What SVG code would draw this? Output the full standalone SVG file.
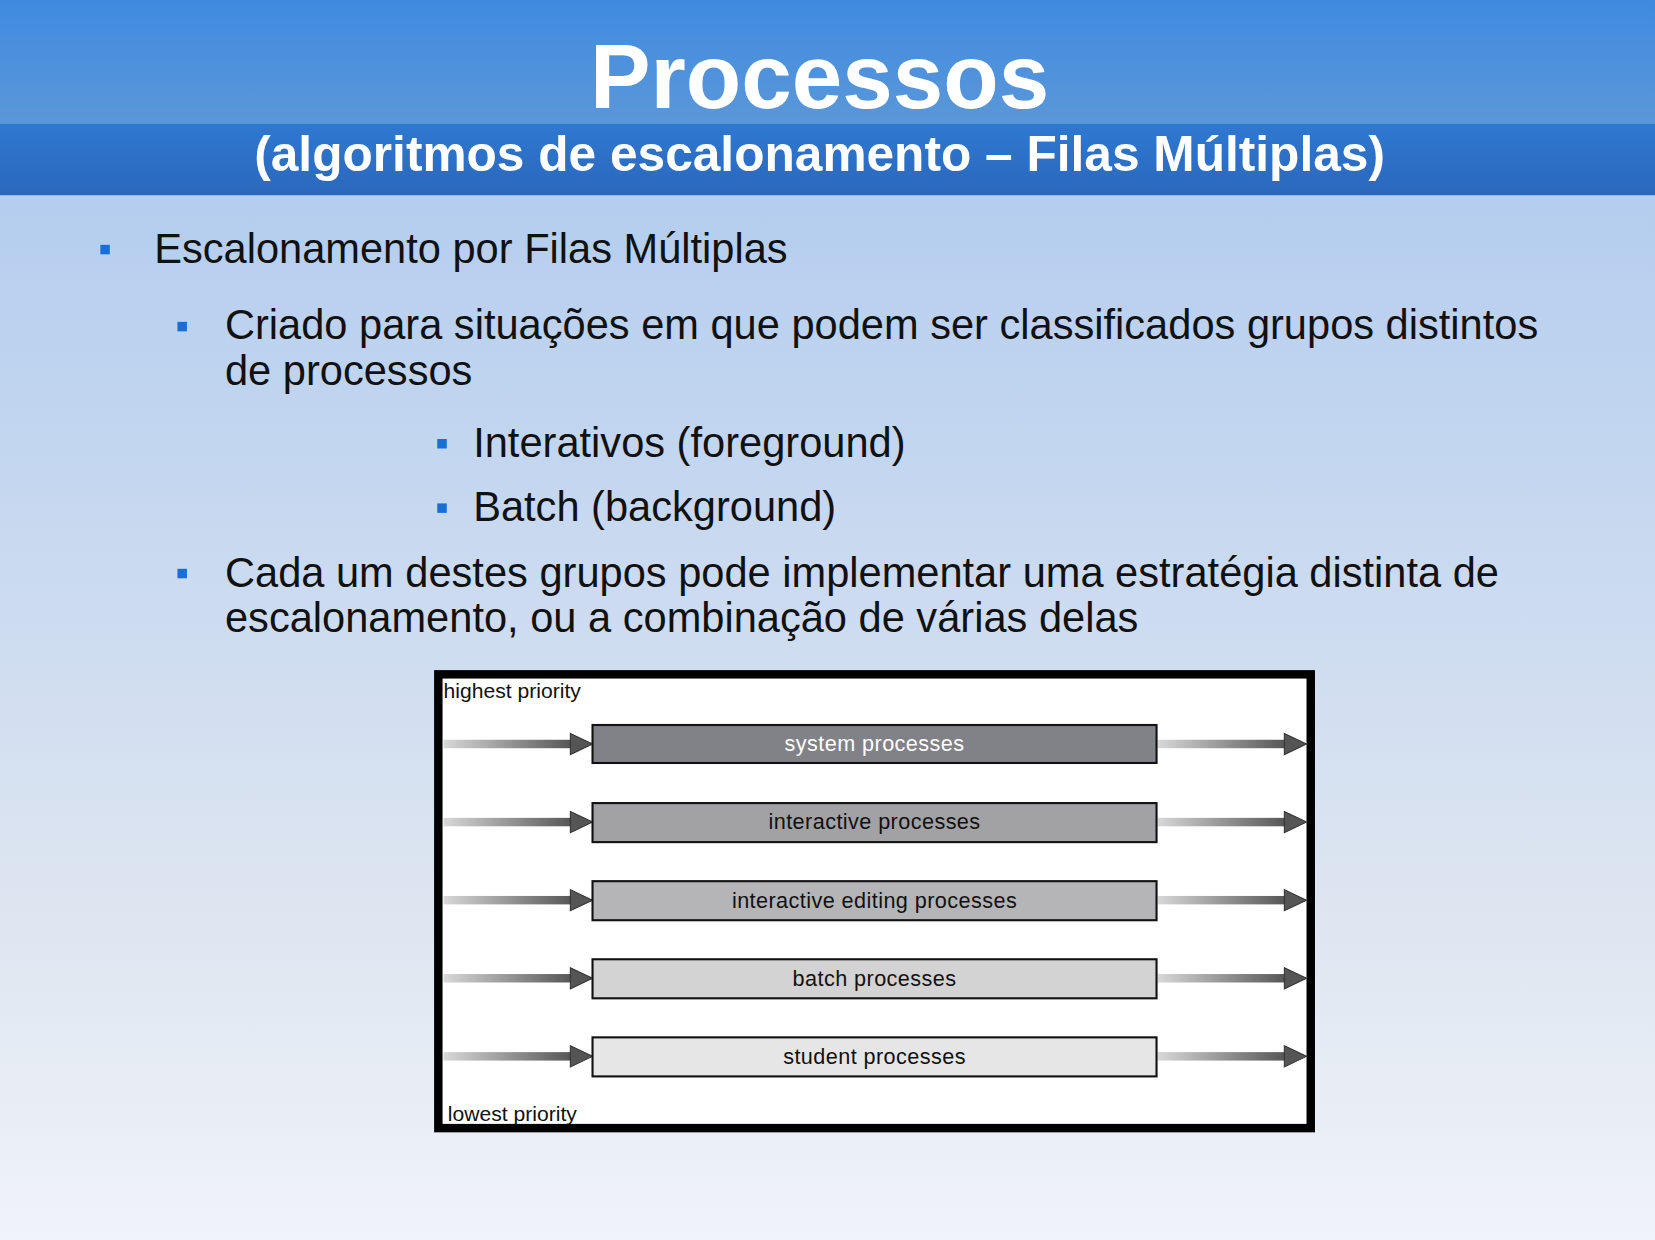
<svg xmlns="http://www.w3.org/2000/svg" width="1655" height="1240" viewBox="0 0 1655 1240">
<defs>
<linearGradient id="bg" x1="0" y1="0" x2="0" y2="1"><stop offset="0" stop-color="#a9c7ee"/><stop offset="0.75" stop-color="#dfe6f1"/><stop offset="1" stop-color="#f0f3f9"/></linearGradient>
<linearGradient id="hd" x1="0" y1="0" x2="0" y2="1"><stop offset="0" stop-color="#3f8be0"/><stop offset="1" stop-color="#5b97d8"/></linearGradient>
<linearGradient id="sb" x1="0" y1="0" x2="0" y2="1"><stop offset="0" stop-color="#2f78d0"/><stop offset="1" stop-color="#2a68bd"/></linearGradient>
<linearGradient id="shaft" x1="0" y1="0" x2="1" y2="0"><stop offset="0" stop-color="#d8d8d8"/><stop offset="1" stop-color="#555"/></linearGradient>
<g id="arr"><rect x="0" y="-4" width="122" height="8" fill="url(#shaft)"/><polygon points="120,-10 141,0 120,10" fill="#555" stroke="#333" stroke-width="1"/></g>
</defs>
<style>
.b{fill:#1a6fd6}
.t{font-family:"Liberation Sans",Arial,sans-serif;fill:#111}
.bx{stroke:#111;stroke-width:2}
.bl{font-family:"Liberation Sans",Arial,sans-serif;font-size:20.5px;letter-spacing:0.4px;text-anchor:middle;fill:#111}
</style>
<g transform="scale(1.0562,1.0553)">
<rect width="1567" height="1175" fill="url(#bg)"/>
<rect width="1567" height="117" fill="url(#hd)"/>
<rect y="117" width="1567" height="68" fill="url(#sb)"/>
<text x="776" y="102" text-anchor="middle" font-family="Liberation Sans,Arial,sans-serif" font-weight="bold" font-size="86" fill="#fff">Processos</text>
<text x="776" y="162" text-anchor="middle" font-family="Liberation Sans,Arial,sans-serif" font-weight="bold" font-size="47" fill="#fff">(algoritmos de escalonamento – Filas Múltiplas)</text>
<rect class="b" x="95" y="232" width="9" height="9"/>
<text class="t" x="146" y="249" font-size="39.4">Escalonamento por Filas Múltiplas</text>
<rect class="b" x="168" y="305" width="9" height="9"/>
<text class="t" x="213" y="321" font-size="39.4">Criado para situações em que podem ser classificados grupos distintos</text>
<text class="t" x="213" y="365" font-size="39.4">de processos</text>
<rect class="b" x="414" y="416" width="9" height="9"/>
<text class="t" x="448" y="433" font-size="39.4">Interativos (foreground)</text>
<rect class="b" x="414" y="477" width="9" height="9"/>
<text class="t" x="448" y="494" font-size="39.4">Batch (background)</text>
<rect class="b" x="168" y="539" width="9" height="9"/>
<text class="t" x="213" y="556" font-size="39.4">Cada um destes grupos pode implementar uma estratégia distinta de</text>
<text class="t" x="213" y="599" font-size="39.4">escalonamento, ou a combinação de várias delas</text>
<g id="frame"><rect x="415" y="639" width="826" height="430" fill="#fff" stroke="#000" stroke-width="8"/>
<text class="t" x="420" y="661" font-size="20">highest priority</text>
<text class="t" x="424" y="1062" font-size="20">lowest priority</text></g>
<g id="connectors">
<use href="#arr" x="420" y="705"/><use href="#arr" x="1096" y="705"/>
<use href="#arr" x="420" y="779"/><use href="#arr" x="1096" y="779"/>
<use href="#arr" x="420" y="853"/><use href="#arr" x="1096" y="853"/>
<use href="#arr" x="420" y="927"/><use href="#arr" x="1096" y="927"/>
<use href="#arr" x="420" y="1001"/><use href="#arr" x="1096" y="1001"/>
</g>
<g id="n1"><rect class="bx" x="561" y="687" width="534" height="36" fill="#808288"/><text class="bl" x="828" y="712" style="fill:#fff">system processes</text></g>
<g id="n2"><rect class="bx" x="561" y="761" width="534" height="37" fill="#a2a2a4"/><text class="bl" x="828" y="786">interactive processes</text></g>
<g id="n3"><rect class="bx" x="561" y="835" width="534" height="37" fill="#b5b4b7"/><text class="bl" x="828" y="860">interactive editing processes</text></g>
<g id="n4"><rect class="bx" x="561" y="909" width="534" height="37" fill="#d3d3d3"/><text class="bl" x="828" y="934">batch processes</text></g>
<g id="n5"><rect class="bx" x="561" y="983" width="534" height="37" fill="#e6e6e6"/><text class="bl" x="828" y="1008">student processes</text></g>
</g>
</svg>
